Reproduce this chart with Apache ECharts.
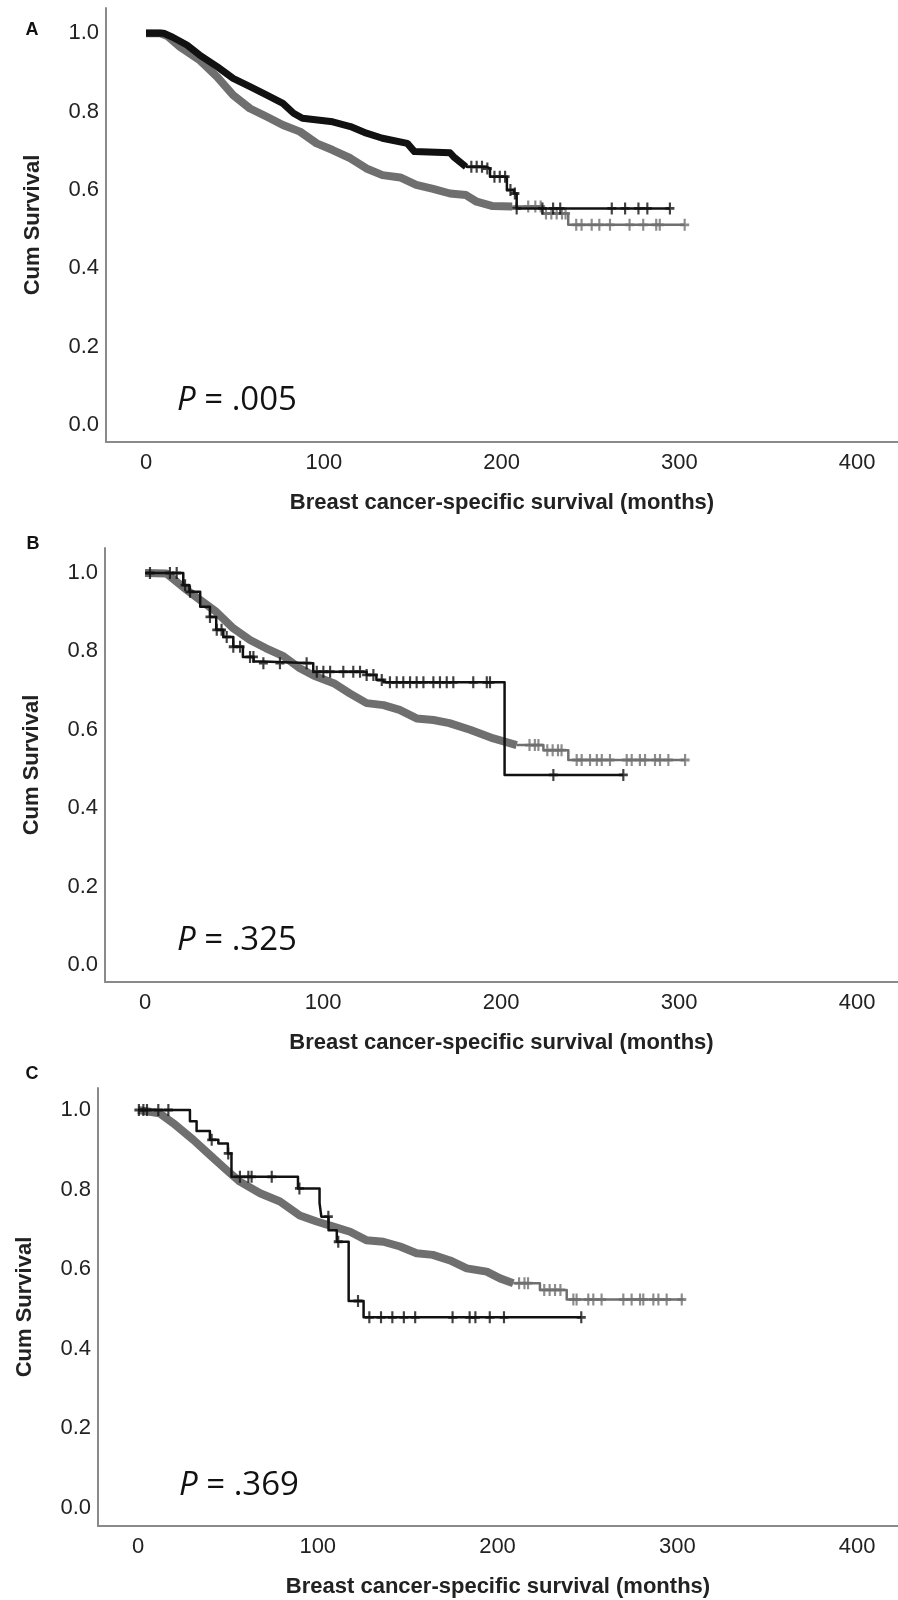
<!DOCTYPE html>
<html><head><meta charset="utf-8">
<script src="https://cdn.jsdelivr.net/npm/echarts@6/dist/echarts.min.js"></script>
<style>html,body{margin:0;padding:0;background:#fff}#c{width:898px;height:1600px}</style>
</head><body><div id="c"></div>
<script>
// ---- tick labels / texts ----
const xTicks = [0, 100, 200, 300, 400];
const yTicks = [0, 0.2, 0.4, 0.6, 0.8, 1.0];
const panelLabels = ['A', 'B', 'C'];
const pValues = ['.005', '.325', '.369'];
const xTitle = 'Breast cancer-specific survival (months)';
const yTitle = 'Cum Survival';

// ---- Panel A ----
const A_gray_dense_t = [0, 8, 12, 19, 30, 40, 49, 58.5, 68, 77, 86.6, 96, 105, 115, 124, 133, 143, 152, 161.5, 171, 180, 186, 195, 206];
const A_gray_dense_s = [1.0, 1.0, 0.993, 0.966, 0.932, 0.889, 0.842, 0.808, 0.787, 0.766, 0.749, 0.719, 0.702, 0.681, 0.655, 0.638, 0.632, 0.613, 0.603, 0.591, 0.587, 0.570, 0.559, 0.558];
const A_gray_step_t = [206, 223, 237.5, 303];
const A_gray_step_s = [0.558, 0.540, 0.511, 0.511];
const A_gray_cens_t = [215, 219, 222, 225, 228, 231, 234, 236, 242, 245, 250.7, 255, 261, 272, 279.7, 287, 289, 303];

const A_black_dense_t = [0, 10, 15, 23, 30, 40, 49, 58.5, 68, 77, 83, 88, 105, 115, 124, 133, 147, 151, 171, 173, 180];
const A_black_dense_s = [1.0, 1.0, 0.99, 0.97, 0.945, 0.915, 0.885, 0.864, 0.842, 0.821, 0.796, 0.783, 0.774, 0.762, 0.745, 0.732, 0.719, 0.698, 0.695, 0.685, 0.659];
const A_black_step_t = [180, 191.6, 193.5, 203, 207, 208.5, 294.7];
const A_black_step_s = [0.659, 0.655, 0.634, 0.600, 0.591, 0.553, 0.553];
const A_black_cens_t = [183, 186, 189, 192, 196, 199, 202, 205, 207.5, 208.5, 223, 229, 233, 262, 269.5, 277, 282, 294.7];

// ---- Panel B ----
const B_gray_dense_t = [0, 12, 23.4, 31, 40, 49.6, 59, 68, 77.7, 87, 95, 106, 115, 124.5, 134, 143, 152.6, 162, 171, 182.6, 195.7, 202, 208.8];
const B_gray_dense_s = [1.0, 0.999, 0.957, 0.931, 0.901, 0.859, 0.829, 0.808, 0.788, 0.757, 0.738, 0.719, 0.693, 0.668, 0.663, 0.651, 0.629, 0.625, 0.617, 0.600, 0.578, 0.570, 0.561];
const B_gray_step_t = [208.8, 223.8, 237.8, 303.4];
const B_gray_step_s = [0.561, 0.548, 0.523, 0.523];
const B_gray_cens_t = [216, 219, 221, 226, 229, 232, 234, 242.5, 245.3, 250, 253.8, 256.6, 261.2, 270.6, 273.4, 278, 280.9, 286.5, 289.3, 294, 303.4];

const B_black_step_t = [0, 21.5, 25, 31, 36.5, 40, 44, 49.6, 55, 61, 66.5, 94.5, 124.5, 130, 134, 202, 268.7];
const B_black_step_s = [1.0, 0.969, 0.952, 0.914, 0.888, 0.855, 0.837, 0.812, 0.786, 0.774, 0.770, 0.748, 0.740, 0.727, 0.721, 0.485, 0.485];
const B_black_cens_t = [2.8, 14, 17.8, 22.5, 25.3, 36.5, 40.3, 43, 45.9, 49.6, 53.4, 59, 60.9, 66.5, 75.8, 90.8, 96.5, 100.2, 104, 111.4, 117, 120.8, 124.5, 128.3, 133, 137.6, 141.4, 145.1, 148.9, 152.6, 156.4, 162, 165.7, 169.5, 173.2, 184.4, 192, 193.8, 229.4, 268.7];

// ---- Panel C ----
const C_gray_dense_t = [0, 12, 19.6, 30.8, 40, 49.3, 56.7, 67.9, 79, 90, 99.4, 108.7, 118, 127, 136.5, 145.8, 155, 164, 173.6, 182.9, 194, 201.4, 208.8];
const C_gray_dense_s = [1.0, 0.992, 0.967, 0.925, 0.887, 0.849, 0.82, 0.791, 0.77, 0.735, 0.72, 0.707, 0.694, 0.673, 0.669, 0.657, 0.640, 0.636, 0.622, 0.602, 0.594, 0.577, 0.565];
const C_gray_step_t = [208.8, 223.6, 238.5, 303.4];
const C_gray_step_s = [0.565, 0.548, 0.524, 0.524];
const C_gray_cens_t = [212, 215, 217, 226, 229, 232, 235, 242.2, 244, 250.5, 253.3, 257.9, 270, 274.6, 279.3, 281.1, 286.7, 289.5, 294.1, 302.5];

const C_black_step_t = [0, 28.9, 32.6, 40, 44.7, 50, 52, 89, 101, 102, 106, 110.6, 117.2, 125.5, 246.6];
const C_black_step_s = [1.0, 0.972, 0.947, 0.925, 0.916, 0.891, 0.832, 0.803, 0.766, 0.732, 0.698, 0.669, 0.52, 0.479, 0.479];
const C_black_cens_t = [0.5, 3, 5, 11.3, 16.9, 41, 50.2, 56.7, 61.4, 63.2, 74.4, 89.8, 105.9, 111.4, 122.4, 128.7, 135.2, 141.5, 147.9, 154.2, 175, 184.5, 187.7, 195.7, 203.6, 246.6];

// ---- helpers ----
const GRAY = '#6f6f6f', BLACK = '#111111';
const PLUS = 'path://M3.8,0H6.2V3.8H10V6.2H6.2V10H3.8V6.2H0V3.8H3.8Z';
function stepAt(ts, ss, t) {
  let v = ss[0];
  for (let i = 0; i < ts.length; i++) { if (ts[i] <= t) v = ss[i]; }
  return v;
}
function pairs(t, s) { return t.map((v, i) => [v, s[i]]); }
function line(g, t, s, color, width, step, z) {
  return { type: 'line', xAxisIndex: g, yAxisIndex: g, data: pairs(t, s), step: step ? 'end' : false,
    symbol: 'none', showSymbol: false, silent: true, animation: false, z: z,
    lineStyle: { color: color, width: width, join: 'round' } };
}
function cens(g, ct, st, ss, color, z) {
  return { type: 'scatter', xAxisIndex: g, yAxisIndex: g, data: ct.map(t => [t, stepAt(st, ss, t)]),
    symbol: PLUS, symbolSize: [9, 12], silent: true, animation: false, z: z,
    itemStyle: { color: color } };
}

const grids = [
  { left: 106, top: 8, width: 792, height: 434 },
  { left: 105, top: 548, width: 793, height: 434 },
  { left: 98, top: 1088, width: 800, height: 438 }
];
const xr = [[-22.5, 423.0], [-22.47, 423.0], [-22.25, 422.8]];
const yr = [[-0.0434, 1.0646], [-0.0434, 1.0638], [-0.0452, 1.0553]];
const labelFont = { fontFamily: 'Liberation Sans, Arial, sans-serif', fontSize: 22, color: '#222' };
const titleFont = { fontFamily: 'Liberation Sans, Arial, sans-serif', fontSize: 22, fontWeight: 'bold', color: '#222' };
const axisLine = { show: true, onZero: false, lineStyle: { color: '#8a8a8a', width: 2 } };

const xAxis = grids.map((g, i) => ({
  type: 'value', gridIndex: i, min: xr[i][0], max: xr[i][1],
  axisLine: axisLine, axisTick: { show: false }, splitLine: { show: false },
  axisLabel: Object.assign({ customValues: xTicks, margin: 10, formatter: v => String(v) }, labelFont),
  name: xTitle, nameLocation: 'middle', nameGap: 50, nameTextStyle: titleFont
}));
const yAxis = grids.map((g, i) => ({
  type: 'value', gridIndex: i, min: yr[i][0], max: yr[i][1],
  axisLine: axisLine, axisTick: { show: false }, splitLine: { show: false },
  axisLabel: Object.assign({ customValues: yTicks, margin: 7, formatter: v => v.toFixed(1) }, labelFont),
  name: yTitle, nameLocation: 'middle', nameRotate: 90, nameGap: 62, nameTextStyle: titleFont
}));

const series = [
  line(0, A_gray_dense_t, A_gray_dense_s, GRAY, 8, false, 2),
  line(0, A_gray_step_t, A_gray_step_s, GRAY, 2.5, true, 2),
  cens(0, A_gray_cens_t, A_gray_step_t, A_gray_step_s, GRAY, 3),
  line(0, A_black_dense_t, A_black_dense_s, BLACK, 7, false, 4),
  line(0, A_black_step_t, A_black_step_s, BLACK, 2.5, true, 4),
  cens(0, A_black_cens_t, A_black_step_t, A_black_step_s, BLACK, 5),

  line(1, B_gray_dense_t, B_gray_dense_s, GRAY, 8, false, 2),
  line(1, B_gray_step_t, B_gray_step_s, GRAY, 2.5, true, 2),
  cens(1, B_gray_cens_t, B_gray_step_t, B_gray_step_s, GRAY, 3),
  line(1, B_black_step_t, B_black_step_s, BLACK, 2.5, true, 4),
  cens(1, B_black_cens_t, B_black_step_t, B_black_step_s, BLACK, 5),

  line(2, C_gray_dense_t, C_gray_dense_s, GRAY, 8, false, 2),
  line(2, C_gray_step_t, C_gray_step_s, GRAY, 2.5, true, 2),
  cens(2, C_gray_cens_t, C_gray_step_t, C_gray_step_s, GRAY, 3),
  line(2, C_black_step_t, C_black_step_s, BLACK, 2.5, true, 4),
  cens(2, C_black_cens_t, C_black_step_t, C_black_step_s, BLACK, 5)
];

const letterPos = [[32, 30], [33, 544], [32, 1074]];
const pPos = [[177, 401], [177, 941], [179, 1486]];
const graphic = [];
panelLabels.forEach((L, i) => graphic.push({ type: 'text', x: letterPos[i][0], y: letterPos[i][1],
  style: { text: L, fontFamily: 'Liberation Sans, Arial, sans-serif', fontSize: 18, fontWeight: 'bold', fill: '#111', align: 'center', verticalAlign: 'middle' } }));
pValues.forEach((p, i) => graphic.push({ type: 'text', x: pPos[i][0], y: pPos[i][1],
  style: { text: '{i|P} = ' + p, fontFamily: 'Open Sans, sans-serif', fontSize: 33, fill: '#111', align: 'left', verticalAlign: 'middle',
    rich: { i: { fontStyle: 'italic', fontFamily: 'Open Sans, sans-serif', fontSize: 33, fill: '#111' } } } }));

const chart = echarts.init(document.getElementById('c'), null, { renderer: 'canvas' });
chart.setOption({ animation: false, backgroundColor: '#fff', grid: grids, xAxis: xAxis, yAxis: yAxis, series: series, graphic: graphic });
</script></body></html>
